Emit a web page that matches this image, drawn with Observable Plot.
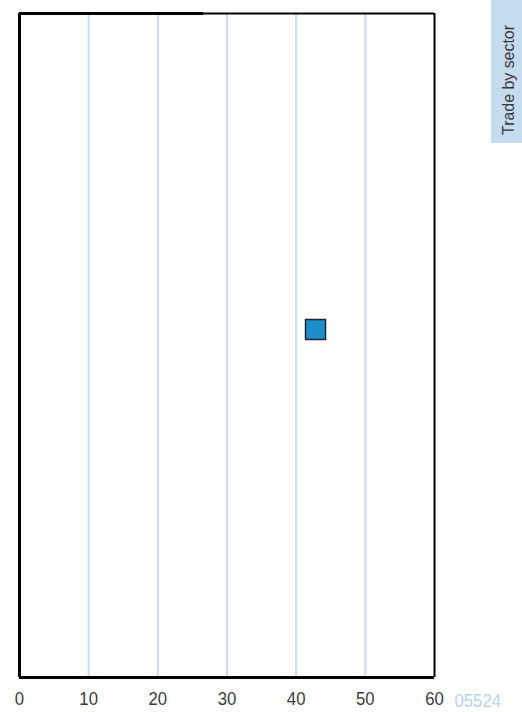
<!DOCTYPE html>
<html>
<head>
<meta charset="utf-8">
<script src="https://cdn.jsdelivr.net/npm/d3@7"></script>
<script src="https://cdn.jsdelivr.net/npm/@observablehq/plot@0.6"></script>
<style>
html,body{margin:0;padding:0;background:#fff;}
#chart{position:relative;width:522px;height:712px;overflow:hidden;}
</style>
</head>
<body>
<div id="chart"></div>
<script>
const xTicks = [0, 10, 20, 30, 40, 50, 60];
const gridValues = [10, 20, 30, 40, 50];
const points = [{value: 42.8, pos: 0.524}];
const sideLabel = "Trade by sector";
const codeLabel = "05524";

const font = "'Liberation Sans', Arial, sans-serif";

const plot = Plot.plot({
  width: 522,
  height: 712,
  marginLeft: 19,
  marginRight: 88,
  marginTop: 13,
  marginBottom: 35,
  style: {fontFamily: font, background: "#fff", overflow: "visible"},
  x: {domain: [0, 60], label: null},
  y: {domain: [0, 1], axis: null},
  marks: [
    Plot.ruleX(gridValues, {stroke: "#c6dcef", strokeWidth: 2}),
    Plot.axisX({ticks: xTicks, tickSize: 0, tickPadding: 14, fontSize: 19, fill: "#3a3a3a", label: null, tickFormat: d => String(d)}),
    Plot.ruleX([0], {stroke: "#000", strokeWidth: 3, y1: 0, y2: 1}),
    Plot.ruleX([60], {stroke: "#000", strokeWidth: 2, y1: 0, y2: 1}),
    Plot.ruleY([0], {stroke: "#000", strokeWidth: 3, x1: 0, x2: 60}),
    Plot.ruleY([1], {stroke: "#000", strokeWidth: 2, x1: 0, x2: 60}),
    Plot.ruleY([1], {stroke: "#000", strokeWidth: 3, x1: 0, x2: 26.6}),
    Plot.dot(points, {x: "value", y: "pos", symbol: "square", r: 11.3, fill: "#1b8dc9", stroke: "#1c2733", strokeWidth: 1.5}),
    Plot.text([codeLabel], {frameAnchor: "bottom-right", dx: 20, dy: 29, textAnchor: "start", fontSize: 19, fill: "#b9d3ea"})
  ]
});
document.getElementById("chart").appendChild(plot);

const svg = d3.select(plot);
// condense the numeric labels to mimic the narrow face of the original
svg.selectAll("text").each(function() {
  const t = d3.select(this);
  const s = t.text();
  if (/^\d+$/.test(s)) {
    t.attr("textLength", 9.3 * s.length).attr("lengthAdjust", "spacingAndGlyphs");
  }
});

// side label panel
svg.append("rect").attr("x", 491).attr("y", 0).attr("width", 31).attr("height", 143).attr("fill", "#c5dbef");
svg.append("text")
  .attr("transform", "translate(514,80) rotate(-90)")
  .attr("text-anchor", "middle")
  .attr("font-size", 17)
  .attr("font-family", font)
  .attr("fill", "#3a3a3a")
  .attr("textLength", 110)
  .attr("lengthAdjust", "spacingAndGlyphs")
  .text(sideLabel);
</script>
</body>
</html>
